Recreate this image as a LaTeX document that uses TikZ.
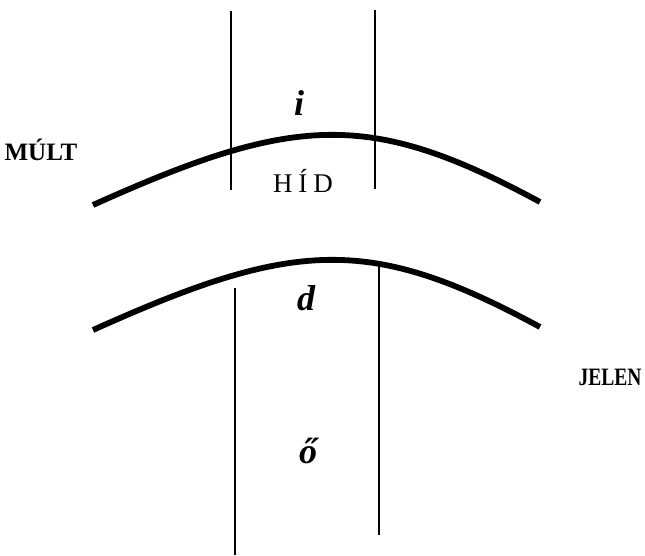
\documentclass[tikz,border=0pt]{standalone}
\usepackage{fontspec}
\usepackage{graphicx}
\setmainfont{Liberation Serif}
\begin{document}
\begin{tikzpicture}[x=1pt,y=-1pt,
  arcline/.style={line width=5.8pt},
  vline/.style={line width=1.8pt},
  sidelabel/.style={font=\fontsize{25}{25}\selectfont\bfseries, inner sep=0pt},
  letterlabel/.style={font=\fontsize{36}{36}\selectfont\bfseries\itshape, inner sep=0pt},
  hidlabel/.style={font=\fontsize{27}{27}\selectfont, inner sep=0pt}]
\useasboundingbox (0,0) rectangle (645,555);
% arcs
\coordinate (uaL) at (93,205);
\coordinate (uaR) at (540,202);
\coordinate (laL) at (93,330);
\coordinate (laR) at (540,327);
\draw[arcline] (uaL) .. controls (295,114) and (370,110) .. (uaR);
\draw[arcline] (laL) .. controls (295,239) and (370,235) .. (laR);
% vertical lines
\coordinate (v1t) at (231,11);  \coordinate (v1b) at (231,190);
\coordinate (v2t) at (375,10);  \coordinate (v2b) at (375,189);
\coordinate (v3t) at (235,288); \coordinate (v3b) at (235,555);
\coordinate (v4t) at (379,262); \coordinate (v4b) at (379,535);
\draw[vline] (v1t) -- (v1b);
\draw[vline] (v2t) -- (v2b);
\draw[vline] (v3t) -- (v3b);
\draw[vline] (v4t) -- (v4b);
% labels
\node[sidelabel] (mult) at (41,150) {MÚLT};
\node[sidelabel] (jelen) at (610,377) {\scalebox{0.78}[1]{JELEN}};
\node[letterlabel, anchor=base] (li) at (299,115) {i};
\node[hidlabel, anchor=base] (hid) at (303,192) {H\hspace{6pt}Í\hspace{6pt}D};
\node[letterlabel, anchor=base] (ld) at (306,310) {d};
\node[letterlabel, anchor=base] (lo) at (308,463) {ő};
\end{tikzpicture}
\end{document}
